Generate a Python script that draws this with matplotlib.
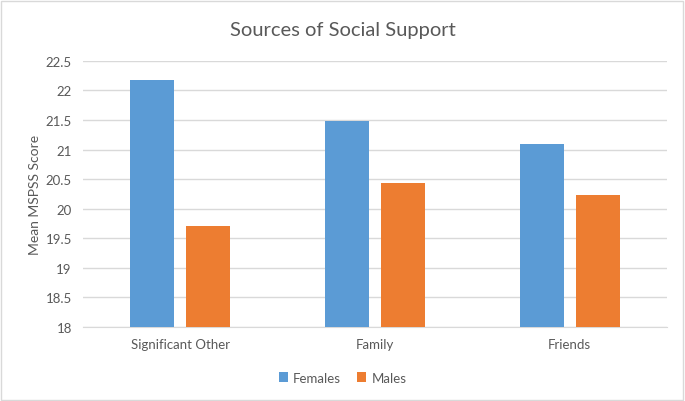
import numpy as np
import matplotlib.pyplot as plt
from matplotlib.patches import Rectangle

categories = ['Significant Other', 'Family', 'Friends']
females = [22.18, 21.48, 21.09]
males = [19.71, 20.43, 20.24]

plt.rcParams['font.family'] = ['Lato', 'DejaVu Sans']
txt = '#595959'

fig = plt.figure(figsize=(6.85, 4.02), dpi=100)
fig.patches.append(Rectangle((0.002, 0.003), 0.995, 0.993, transform=fig.transFigure,
                             fill=False, edgecolor='#d9d9d9', lw=1))
ax = fig.add_axes([0.121, 0.184, 0.853, 0.662])

x = np.arange(len(categories))
w = 0.226
off = (w + 0.062) / 2
ax.bar(x - off, females, w, bottom=0, color='#5b9bd5', label='Females', zorder=3)
ax.bar(x + off, males, w, bottom=0, color='#ed7d31', label='Males', zorder=3)

ax.set_ylim(18, 22.5)
ax.set_xlim(-0.5, 2.5)
ax.set_yticks(np.arange(18, 22.51, 0.5))
ax.set_yticklabels([f'{v:g}' for v in np.arange(18, 22.51, 0.5)])
ax.set_xticks(x)
ax.set_xticklabels(categories)
ax.yaxis.grid(True, color='#d9d9d9', lw=1, zorder=0)
for s in ['top', 'right', 'left']:
    ax.spines[s].set_visible(False)
ax.spines['bottom'].set_color('#d9d9d9')
ax.tick_params(length=0, colors=txt, labelsize=9.5)
ax.tick_params(axis='x', pad=8)
ax.tick_params(axis='y', pad=8)
ax.set_ylabel('Mean MSPSS Score', color=txt, fontsize=10, labelpad=3)
fig.text(0.5, 0.925, 'Sources of Social Support', ha='center', va='center',
         color=txt, fontsize=14.5)
fig.legend(loc='center', bbox_to_anchor=(0.5, 0.058), ncol=2, frameon=False,
           fontsize=9.5, labelcolor=txt, handlelength=0.7, handleheight=0.7,
           columnspacing=1.2, handletextpad=0.4)

fig.savefig('out.png', dpi=100)
